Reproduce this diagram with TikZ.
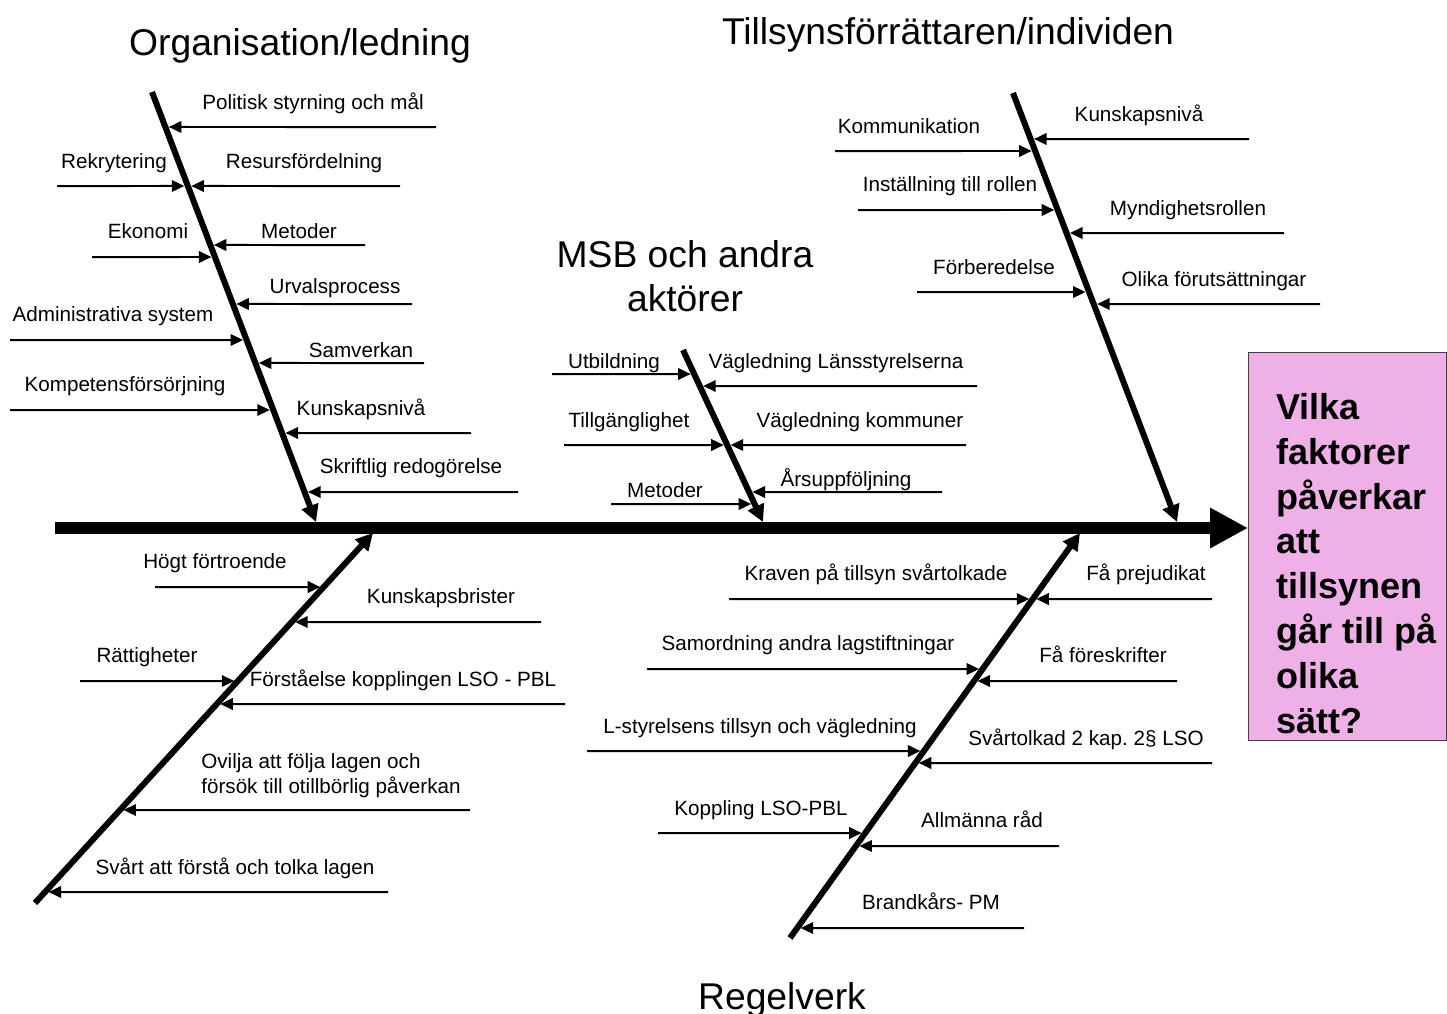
\documentclass[tikz,border=0pt]{standalone}
\usepackage{fontspec}
\setmainfont{Liberation Sans}
\usetikzlibrary{arrows.meta,calc}
\definecolor{qpink}{RGB}{238,176,230}

\begin{document}
\begin{tikzpicture}[
  x=0.02cm, y=-0.02cm,
  lbl/.style={font=\fontsize{11.75}{14.2}\selectfont, inner sep=0pt, anchor=base},
  ttl/.style={font=\fontsize{21.2}{25}\selectfont, inner sep=0pt, align=center},
  spine/.style={line width=0.24cm, -{Triangle[length=0.76cm, width=0.76cm]}},
  bone/.style={line width=0.12cm, -{Triangle[length=0.34cm, width=0.34cm]}},
  rib/.style={line width=0.04cm, -{Triangle[length=0.25cm, width=0.23cm]}, shorten >=0.07cm},
  qbox/.style={draw=black!75, line width=0.6pt, fill=qpink,
               minimum width=3.96cm, minimum height=7.76cm, inner sep=0pt},
]
\useasboundingbox (0,0) rectangle (1447,1014);

% titles
\node[ttl, anchor=base]  (org) at (300,55)   {Organisation/ledning};
\node[ttl, anchor=base]  (til) at (948,44)   {Tillsynsförrättaren/individen};
\node[ttl, anchor=north] (msb) at (685,240)  {MSB och andra\\aktörer};
\node[ttl, anchor=base]  (reg) at (782,1009) {Regelverk};

% the question
\node[qbox, anchor=north west] (q) at (1248,352) {};
\node[anchor=north west, inner sep=0pt, align=left,
      font=\fontsize{20.5}{25.5}\selectfont\bfseries] (qt) at (1276,393)
  {Vilka\\faktorer\\påverkar\\att\\tillsynen\\går till på\\olika\\sätt?};

% bones
\coordinate (sp)   at (55,528);
\coordinate (orgT) at (152,92);   \coordinate (orgB) at (316,522);
\coordinate (tilT) at (1013,93);  \coordinate (tilB) at (1177,522);
\coordinate (msbT) at (683,350);  \coordinate (msbB) at (763,522);
\coordinate (lowT) at (373,533);  \coordinate (lowB) at (35,903);
\coordinate (regT) at (1080,533); \coordinate (regB) at (790,938);

% Organisation/ledning
\node[lbl] (pol)  at (313,109) {Politisk styrning och mål};
\node[lbl] (rek)  at (114,168) {Rekrytering};
\node[lbl] (res)  at (304,168) {Resursfördelning};
\node[lbl] (eko)  at (148,238) {Ekonomi};
\node[lbl] (met)  at (299,238) {Metoder};
\node[lbl] (urv)  at (335,293) {Urvalsprocess};
\node[lbl] (adm)  at (113,321) {Administrativa system};
\node[lbl] (sam)  at (361,357) {Samverkan};
\node[lbl] (komp) at (125,391) {Kompetensförsörjning};
\node[lbl] (kun)  at (361,415) {Kunskapsnivå};
\node[lbl] (skr)  at (411,473) {Skriftlig redogörelse};
\foreach \n/\x/\y in {rek/57/186, eko/92/257, adm/10/340, komp/10/410,
                      pol/436/127, res/400/186, met/365/245, urv/412/304,
                      sam/424/363, kun/471/433, skr/518/492}
  \draw[rib] (\x,\y) coordinate (\n0) -- ($(orgT)!{(\y-92)/430}!(orgB)$);

% Tillsynsförrättaren/individen
\node[lbl] (kom)   at (909,133)  {Kommunikation};
\node[lbl] (ins)   at (950,191)  {Inställning till rollen};
\node[lbl] (forb)  at (994,274)  {Förberedelse};
\node[lbl] (kun2)  at (1139,121) {Kunskapsnivå};
\node[lbl] (myn)   at (1188,215) {Myndighetsrollen};
\node[lbl] (olika) at (1214,286) {Olika förutsättningar};
\foreach \n/\x/\y in {kom/835/151, ins/858/210, forb/917/292,
                      kun2/1249/139, myn/1284/233, olika/1320/304}
  \draw[rib] (\x,\y) coordinate (\n0) -- ($(tilT)!{(\y-93)/429}!(tilB)$);

% MSB och andra aktörer
\node[lbl] (utb)   at (614,368) {Utbildning};
\node[lbl] (tillg) at (629,427) {Tillgänglighet};
\node[lbl] (met2)  at (665,497) {Metoder};
\node[lbl] (vlan)  at (836,368) {Vägledning Länsstyrelserna};
\node[lbl] (vkom)  at (860,427) {Vägledning kommuner};
\node[lbl] (ars)   at (846,486) {Årsuppföljning};
\foreach \n/\x/\y in {utb/552/374, tillg/564/445, met2/611/504,
                      vlan/977/386, vkom/966/445, ars/942/492}
  \draw[rib] (\x,\y) coordinate (\n0) -- ($(msbT)!{(\y-350)/172}!(msbB)$);

% lower left bone
\node[lbl] (hogt)  at (215,568) {Högt förtroende};
\node[lbl] (ratt)  at (147,662) {Rättigheter};
\node[lbl] (kbr)   at (441,603) {Kunskapsbrister};
\node[lbl] (forst) at (403,686) {Förståelse kopplingen LSO - PBL};
\node[lbl, anchor=north west, align=left] (ovi) at (201,753)
  {Ovilja att följa lagen och\\försök till otillbörlig påverkan};
\node[lbl] (svart) at (235,874) {Svårt att förstå och tolka lagen};
\foreach \n/\x/\y in {hogt/155/587, ratt/80/681, kbr/541/622,
                      forst/565/704, ovi/470/810, svart/388/892}
  \draw[rib] (\x,\y) coordinate (\n0) -- ($(lowT)!{(\y-533)/370}!(lowB)$);

% Regelverk
\node[lbl] (krav)  at (876,580)  {Kraven på tillsyn svårtolkade};
\node[lbl] (samo)  at (808,650)  {Samordning andra lagstiftningar};
\node[lbl] (lsty)  at (760,733)  {L-styrelsens tillsyn och vägledning};
\node[lbl] (kopp)  at (761,815)  {Koppling LSO-PBL};
\node[lbl] (prej)  at (1146,580) {Få prejudikat};
\node[lbl] (fore)  at (1103,662) {Få föreskrifter};
\node[lbl] (svtk)  at (1086,745) {Svårtolkad 2 kap.\ 2§ LSO};
\node[lbl] (allm)  at (982,827)  {Allmänna råd};
\node[lbl] (brand) at (931,909)  {Brandkårs- PM};
\foreach \n/\x/\y in {krav/729/599, samo/647/669, lsty/587/751, kopp/658/833,
                      prej/1212/599, fore/1177/681, svtk/1212/763,
                      allm/1059/846, brand/1024/928}
  \draw[rib] (\x,\y) coordinate (\n0) -- ($(regT)!{(\y-533)/405}!(regB)$);

\draw[bone] (orgT) -- (orgB);
\draw[bone] (tilT) -- (tilB);
\draw[bone] (msbT) -- (msbB);
\draw[bone] (lowB) -- (lowT);
\draw[bone] (regB) -- (regT);
\draw[spine] (sp) -- (sp -| q.west);
\end{tikzpicture}
\end{document}
